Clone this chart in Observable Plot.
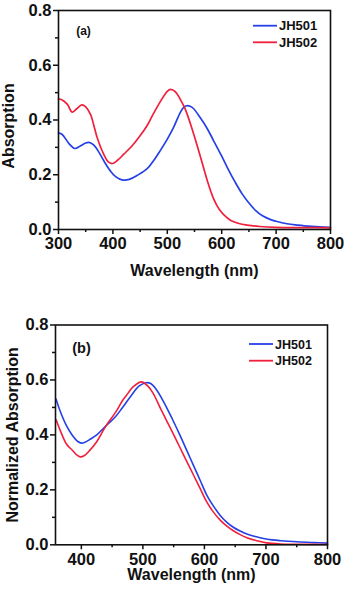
<!DOCTYPE html>
<html><head><meta charset="utf-8">
<script src="https://cdn.jsdelivr.net/npm/d3@7"></script>
<script src="https://cdn.jsdelivr.net/npm/@observablehq/plot@0.6"></script>
<style>
html,body{margin:0;padding:0;background:#fff;}
#wrap{width:345px;}
svg{display:block;}
</style></head>
<body><div id="wrap"></div>
<script>
// Panel (a): absorption spectra
const wlA501 = [300,305,310,320,330,340,350,356,365,375,385,395,405,417,430,445,463,475,487,500,512,524,530,536,542,548,561,573,585,600,612,625,637,650,662,675,690,700,720,740,760,780,800];
const absA501 = [0.352,0.350,0.340,0.312,0.296,0.305,0.316,0.318,0.308,0.280,0.245,0.215,0.193,0.181,0.183,0.198,0.222,0.252,0.288,0.330,0.375,0.428,0.446,0.452,0.450,0.442,0.407,0.370,0.325,0.268,0.220,0.172,0.132,0.097,0.070,0.050,0.036,0.030,0.021,0.016,0.012,0.010,0.008];
const wlA502 = [300,305,316,325,333,343,350,359,365,371,383,391,399,408,420,435,451,463,475,488,500,506,515,524,533,548,561,573,585,596,608,616,630,647,670,700,750,800];
const absA502 = [0.476,0.475,0.458,0.429,0.440,0.455,0.448,0.420,0.380,0.336,0.275,0.248,0.241,0.252,0.275,0.305,0.345,0.380,0.425,0.470,0.505,0.512,0.503,0.475,0.440,0.352,0.265,0.182,0.113,0.072,0.046,0.034,0.023,0.016,0.011,0.008,0.007,0.006];
// Panel (b): normalized absorption
const wlB501 = [359,365,376,385,395,400,405,415,425,440,455,467,480,494,505,512,521,535,548,560,572,582,593,604,615,626,637,647,658,669,683,696,710,724,750,778,800];
const absB501 = [0.530,0.490,0.433,0.400,0.375,0.370,0.372,0.385,0.400,0.433,0.465,0.500,0.540,0.578,0.590,0.588,0.568,0.515,0.457,0.400,0.340,0.290,0.235,0.180,0.140,0.106,0.081,0.064,0.050,0.039,0.030,0.023,0.018,0.015,0.011,0.008,0.006];
const wlB502 = [359,365,376,385,392,398,405,413,425,440,455,467,476,484,498,507,516,530,548,560,572,582,593,604,615,626,637,647,658,669,685,701,724,750,800];
const absB502 = [0.455,0.420,0.366,0.345,0.328,0.320,0.325,0.342,0.375,0.433,0.480,0.525,0.552,0.575,0.593,0.580,0.554,0.490,0.410,0.355,0.300,0.255,0.205,0.155,0.118,0.089,0.067,0.051,0.037,0.026,0.015,0.007,0.003,0.002,0.001];

const seriesNames = ["JH501","JH502"];
const colors = ["#2540e6","#f0203c"];
const yTicks = [0,0.2,0.4,0.6,0.8];
const yMinor = [0.1,0.3,0.5,0.7];
const xTicksA = [300,400,500,600,700,800];
const xMinorA = [350,450,550,650,750];
const xTicksB = [400,500,600,700,800];
const xMinorB = [450,550,650,750];

const FONT = "'Liberation Sans', Arial, Helvetica, sans-serif";

function toRows(wl, ab, name){ return wl.map((w,i)=>({wl:w, a:ab[i], s:name})); }

function panel(o){
  const rows = [...toRows(o.wl1,o.ab1,seriesNames[0]), ...toRows(o.wl2,o.ab2,seriesNames[1])];
  const plot = Plot.plot({
    width:345, height:o.height,
    marginLeft:o.ml, marginRight:o.mr, marginTop:o.mt, marginBottom:o.mb,
    x:{domain:o.xdomain},
    y:{domain:[0,0.8]},
    color:{domain:seriesNames, range:colors},
    style:{fontFamily:FONT, fontSize:"16px", fontWeight:"bold", color:"#111", background:"#fff"},
    marks:[
      Plot.axisX({ticks:o.xticks, tickSize:5, tickPadding:3, strokeWidth:1.5, label:null, fontSize:16.5, fontWeight:"bold", tickFormat:d=>String(d)}),
      Plot.axisX({ticks:o.xminor, tickSize:3, strokeWidth:1.5, label:null, tickFormat:()=>""}),
      Plot.axisY({ticks:yTicks, tickSize:5, tickPadding:2, strokeWidth:1.5, label:null, fontSize:16.5, fontWeight:"bold", tickFormat:d3.format(".1f")}),
      Plot.axisY({ticks:yMinor, tickSize:3, strokeWidth:1.5, label:null, tickFormat:()=>""}),
      Plot.line(rows, {x:"wl", y:"a", z:"s", stroke:"s", strokeWidth:o.lw, curve:"catmull-rom"}),
      Plot.frame({stroke:"#111", strokeWidth:1.6}),
      Plot.text([o.tag], {text:d=>d, frameAnchor:"top-left", dx:o.tagDx, dy:o.tagDy, textAnchor:"middle", lineAnchor:"bottom", fontSize:o.tagSize, fontWeight:"bold", fill:"#111"}),
      Plot.text(["Wavelength (nm)"], {text:d=>d, frameAnchor:"bottom", dy:o.xlabDy, textAnchor:"middle", lineAnchor:"bottom", fontSize:16, fontWeight:"bold", fill:"#111"}),
      Plot.text([o.ylab], {text:d=>d, frameAnchor:"left", rotate:-90, dx:o.ylabDx, dy:o.ylabDy, textAnchor:"middle", lineAnchor:"bottom", fontSize:16, fontWeight:"bold", fill:"#111"})
    ]
  });
  // legend
  const svg = d3.select(plot);
  const g = svg.append("g").attr("font-family",FONT).attr("font-weight","bold").attr("font-size",o.legSize).attr("text-anchor","start");
  seriesNames.forEach((n,i)=>{
    const y = o.legY + i*o.legGap;
    g.append("line").attr("x1",o.legX).attr("x2",o.legX+24).attr("y1",y).attr("y2",y).attr("stroke",colors[i]).attr("stroke-width",1.8);
    g.append("text").attr("x",o.legX+26).attr("y",y+4.5).attr("fill","#111").attr("text-anchor","start").text(n);
  });
  return plot;
}

const wrap = document.getElementById("wrap");
wrap.appendChild(panel({
  height:295, ml:58, mr:15, mt:10, mb:66,
  xdomain:[300,800], xticks:xTicksA, xminor:xMinorA,
  wl1:wlA501, ab1:absA501, wl2:wlA502, ab2:absA502, lw:1.7,
  tag:"(a)", tagDx:25, tagDy:24, tagSize:12,
  xlabDy:46, ylab:"Absorption", ylabDx:-45, ylabDy:6,
  legX:253, legY:25.7, legGap:16.6, legSize:13
}));
wrap.appendChild(panel({
  height:295, ml:55, mr:18, mt:29.5, mb:45.7,
  xdomain:[358,800], xticks:xTicksB, xminor:xMinorB,
  wl1:wlB501, ab1:absB501, wl2:wlB502, ab2:absB502, lw:1.6,
  tag:"(b)", tagDx:26, tagDy:27.5, tagSize:14.5,
  xlabDy:35, ylab:"Normalized Absorption", ylabDx:-38, ylabDy:0,
  legX:249, legY:49, legGap:16.7, legSize:12.5
}));
</script>
</body></html>
